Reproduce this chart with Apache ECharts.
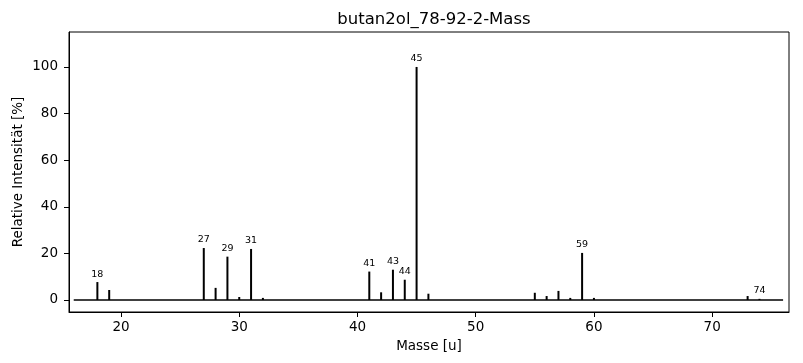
<!DOCTYPE html>
<html><head><meta charset="utf-8">
<script src="https://cdn.jsdelivr.net/npm/echarts@6/dist/echarts.min.js"></script>
<style>html,body{margin:0;padding:0;background:#fff}#c{width:803px;height:363px}</style>
</head><body><div id="c"></div>
<script>
var masses = [18,19,27,28,29,30,31,32,41,42,43,44,45,46,55,56,57,58,59,60,73,74];
var intensities = [7.7,4.3,22.3,5.2,18.6,1.3,21.9,0.9,12.2,3.3,13.0,8.7,100,2.7,3.1,1.7,3.9,0.9,20.2,0.9,1.7,0.5];
var labeledMasses = [18,27,29,31,41,43,44,45,59,74];
var xTicks = [20,30,40,50,60,70];
var yTicks = [0,20,40,60,80,100];
var baseline = [[16,0],[76,0]];

var font = 'DejaVu Sans';
var chart = echarts.init(document.getElementById('c'));
var barData = masses.map(function(m,i){
  var lab = labeledMasses.indexOf(m) >= 0;
  return {value:[m,intensities[i]], label:{show:lab}};
});
chart.setOption({
  animation:false,
  title:{text:'butan2ol_78-92-2-Mass', left:429, textAlign:'center', top:6,
    textStyle:{fontFamily:font, fontSize:16.5, fontWeight:'normal', color:'#000'}},
  grid:{left:69, right:14, top:32, bottom:51, show:true, borderColor:'#000', borderWidth:1, backgroundColor:'transparent'},
  xAxis:{type:'value', min:15.6, max:76.5,
    name:'Masse [u]', nameLocation:'middle', nameGap:27,
    nameTextStyle:{fontFamily:font, fontSize:13.5, color:'#000'},
    axisLine:{show:true, onZero:false, lineStyle:{color:'#000', width:1}},
    axisTick:{show:true, length:5, customValues:xTicks, lineStyle:{color:'#000'}},
    axisLabel:{customValues:xTicks, margin:8, fontFamily:font, fontSize:13.5, color:'#000'},
    splitLine:{show:false}},
  yAxis:{type:'value', min:-5.15, max:115,
    name:'Relative Intensität [%]', nameLocation:'middle', nameGap:44, nameMoveOverlap:false,
    nameTextStyle:{fontFamily:font, fontSize:13.5, color:'#000'},
    axisLine:{show:true, lineStyle:{color:'#000', width:1}},
    axisTick:{show:true, length:5, customValues:yTicks, lineStyle:{color:'#000'}},
    axisLabel:{customValues:yTicks, margin:11, fontFamily:font, fontSize:13.5, color:'#000'},
    splitLine:{show:false}},
  series:[
    {type:'line', data:baseline, symbol:'none', lineStyle:{color:'#000', width:1.3}, z:1, silent:true},
    {type:'bar', data:barData, barWidth:2, itemStyle:{color:'#000'}, z:2,
      label:{position:'top', distance:3, fontFamily:font, fontSize:9.5, color:'#000',
        formatter:function(p){return String(p.value[0]);}}}
  ]
});
</script></body></html>
